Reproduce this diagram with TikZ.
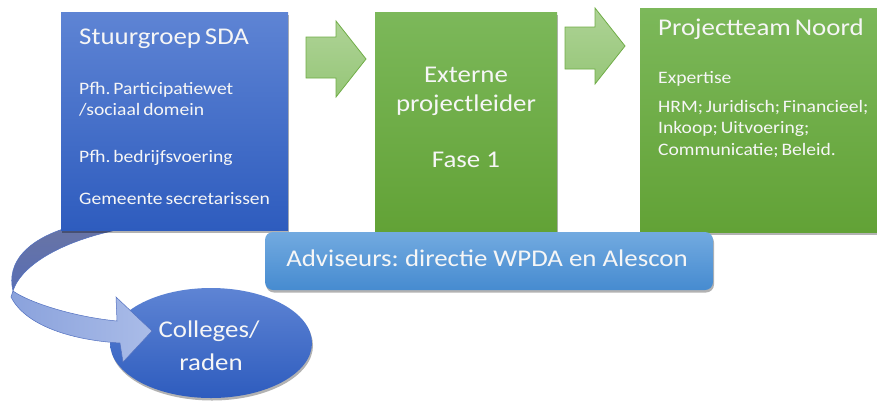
\documentclass[tikz,border=0pt]{standalone}
\usepackage{fontspec}
\setmainfont{Carlito}[FakeStretch=1.12,WordSpace=0.65]
\newfontfamily\normspace{Carlito}[FakeStretch=1.12]
\frenchspacing
\usetikzlibrary{shadows,shapes.geometric}
\definecolor{bluetop}{RGB}{94,132,212}
\definecolor{bluebot}{RGB}{46,92,190}
\definecolor{greentop}{RGB}{124,184,90}
\definecolor{greenbot}{RGB}{98,162,54}
\definecolor{arrowtop}{RGB}{174,211,150}
\definecolor{arrowbot}{RGB}{150,198,120}
\definecolor{arrowline}{RGB}{112,173,71}
\definecolor{advtop}{RGB}{114,170,224}
\definecolor{advbot}{RGB}{70,139,208}
\definecolor{txt}{RGB}{246,246,246}
\definecolor{backtop}{RGB}{104,116,165}
\definecolor{backbot}{RGB}{88,110,180}
\definecolor{fronta}{RGB}{138,162,220}
\definecolor{frontb}{RGB}{170,188,232}
\definecolor{bandline}{RGB}{82,112,192}
\tikzset{
  shade/.style={drop shadow={shadow xshift=1pt,shadow yshift=-2.5pt,opacity=0.3,fill=black}},
  bluebox/.style={shade,rectangle,inner sep=0pt,outer sep=0pt,top color=bluetop,bottom color=bluebot},
  greenbox/.style={shade,rectangle,inner sep=0pt,outer sep=0pt,top color=greentop,bottom color=greenbot},
  advbox/.style={shade,rectangle,rounded corners=8pt,inner sep=0pt,outer sep=0pt,top color=advtop,bottom color=advbot},
  blockarrow/.style={top color=arrowtop,bottom color=arrowbot,draw=arrowline,line width=0.8pt,line join=miter},
  txtnode/.style={text=txt,inner sep=0pt},
  big/.style={txtnode,font=\fontsize{24}{28}\selectfont},
  bignorm/.style={txtnode,font=\normspace\frenchspacing\fontsize{24}{28}\selectfont},
  head/.style={txtnode,font=\fontsize{24}{28}\selectfont},
  body/.style={txtnode,font=\frenchspacing\fontsize{17.5}{21}\selectfont},
}
\begin{document}
\begin{tikzpicture}[x=1pt,y=-1pt]
\useasboundingbox (0,0) rectangle (877,400);
% ellipse
\node[shade,ellipse,inner sep=0pt,minimum width=202pt,minimum height=110pt,top color=bluetop,bottom color=bluebot] (coll) at (211,343) {};
% curved arrow: back side
\path[top color=backtop,bottom color=backbot,draw=bandline,line width=0.5pt]
  (66,228) .. controls (28,240) and (6,262) .. (13,291)
  .. controls (20,268) and (55,244) .. (112,231) -- cycle;
% curved arrow: front side with head
\path[left color=fronta,right color=frontb,draw=bandline,line width=0.5pt]
  (13,291) .. controls (30,303) and (75,317) .. (117,321)
  -- (116,297) -- (152,331) -- (123,362) -- (120,343)
  .. controls (70,340) and (25,325) .. (11,297) -- cycle;
% boxes
\node[bluebox,minimum width=227pt,minimum height=218pt,anchor=north west] (stuur) at (61,12) {};
\node[greenbox,minimum width=182pt,minimum height=220pt,anchor=north west] (ext) at (375,12) {};
\node[greenbox,minimum width=240pt,minimum height=224pt,anchor=north west] (team) at (640,8) {};
% block arrows
\path[blockarrow] (306,37) -- (336,37) -- (336,21) -- (366,59) -- (336,97) -- (336,78) -- (306,78) -- cycle;
\path[blockarrow] (565,27) -- (595,27) -- (595,8) -- (625,46) -- (595,84) -- (595,69) -- (565,69) -- cycle;
% advisers
\node[advbox,minimum width=448pt,minimum height=58pt,anchor=north west] (adv) at (265,232) {};
% texts blue box
\node[head,anchor=base west] (s1) at (79,44) {Stuurgroep SDA};
\node[body,anchor=base west] (s2) at (79,94) {Pfh. Participatiewet};
\node[body,anchor=base west] (s3) at (79,115) {/sociaal domein};
\node[body,anchor=base west] (s4) at (79,162) {Pfh. bedrijfsvoering};
\node[body,anchor=base west] (s5) at (79,204) {Gemeente secretarissen};
% texts green box 2
\node[big,anchor=base] (e1) at (466,82) {Externe};
\node[big,anchor=base] (e2) at (466,111) {projectleider};
\node[bignorm,anchor=base] (e3) at (466,167) {Fase 1};
% texts green box 3
\node[head,anchor=base west] (p1) at (658,35) {Projectteam Noord};
\node[body,anchor=base west] (p2) at (658,83) {Expertise};
\node[body,anchor=base west] (p3) at (658,112) {HRM; Juridisch; Financieel;};
\node[body,anchor=base west] (p4) at (658,133) {Inkoop; Uitvoering;};
\node[body,anchor=base west] (p5) at (658,155) {Communicatie; Beleid.};
% advisers text
\node[bignorm,anchor=base] (a1) at (487,266) {Adviseurs: directie WPDA en Alescon};
% colleges text
\node[big,anchor=base] (c1) at (209,337) {Colleges/};
\node[big,anchor=base] (c2) at (211,370) {raden};
\end{tikzpicture}
\end{document}
